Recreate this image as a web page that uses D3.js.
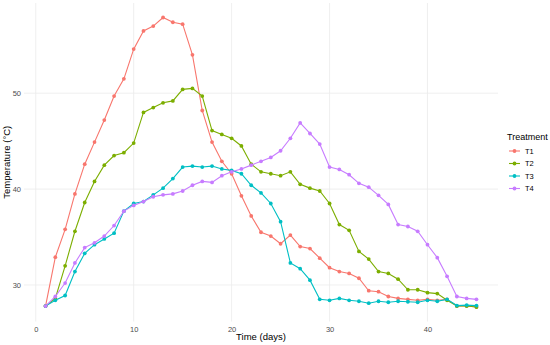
<!DOCTYPE html>
<html>
<head>
<meta charset="utf-8">
<script src="https://cdn.jsdelivr.net/npm/d3@7"></script>
<style>
  body { margin: 0; background: #fff; }
  svg { font-family: "Liberation Sans", Arial, sans-serif; }
</style>
</head>
<body>
<div id="container"></div>
<script>
// Days 1..45
const days = d3.range(1, 46);
const treatments = ['T1', 'T2', 'T3', 'T4'];
const colors = ['#F8766D', '#7CAE00', '#00BFC4', '#C77CFF'];

const t1 = [27.8, 32.9, 35.8, 39.5, 42.6, 44.9, 47.2, 49.7, 51.5, 54.6, 56.5, 57.0, 57.9, 57.4, 57.2,
  54.0, 48.2, 44.9, 42.9, 41.6, 39.3, 37.2, 35.5, 35.1, 34.3, 35.2, 34.0, 33.8, 32.8, 31.8,
  31.4, 31.2, 30.7, 29.4, 29.3, 28.8, 28.6, 28.5, 28.4, 28.5, 28.4, 28.5, 27.8, 27.8, 27.7];
const t2 = [27.8, 28.6, 32.0, 35.6, 38.6, 40.8, 42.5, 43.5, 43.8, 44.8, 48.0, 48.5, 49.0, 49.2, 50.4,
  50.5, 49.7, 46.1, 45.7, 45.3, 44.5, 42.6, 41.8, 41.6, 41.4, 41.8, 40.5, 40.1, 39.8, 38.5,
  36.3, 35.7, 33.5, 32.7, 31.4, 31.2, 30.6, 29.5, 29.5, 29.2, 29.1, 28.4, 27.8, 27.8, 27.7];
const t3 = [27.8, 28.4, 28.9, 31.4, 33.3, 34.2, 34.8, 35.4, 37.7, 38.5, 38.7, 39.4, 40.1, 41.1, 42.3,
  42.4, 42.3, 42.4, 42.1, 41.95, 41.6, 40.4, 39.6, 38.5, 36.6, 32.3, 31.7, 30.5, 28.5, 28.4,
  28.6, 28.4, 28.3, 28.1, 28.3, 28.2, 28.3, 28.25, 28.2, 28.4, 28.3, 28.5, 27.85, 27.9, 27.85];
const t4 = [27.8, 28.8, 30.2, 32.3, 33.9, 34.4, 35.1, 36.2, 37.7, 38.3, 38.7, 39.2, 39.4, 39.5, 39.8,
  40.4, 40.8, 40.7, 41.4, 41.8, 42.1, 42.5, 42.9, 43.3, 44.0, 45.3, 46.9, 45.8, 44.7, 42.3,
  42.05, 41.5, 40.6, 40.2, 39.35, 38.4, 36.3, 36.1, 35.6, 34.2, 32.85, 30.9, 28.8, 28.6, 28.5];

const xTicks = [0, 10, 20, 30, 40];
const yTicks = [30, 40, 50];

const width = 550, height = 345;
const panel = { left: 24, right: 498, top: 3, bottom: 321.5 };

const series = [t1, t2, t3, t4].map((vals, i) => ({
  name: treatments[i],
  color: colors[i],
  points: days.map((d, j) => ({ day: d, value: vals[j] }))
}));

// ggplot-like 5% expansion
const allVals = [].concat(t1, t2, t3, t4);
const yMin = d3.min(allVals), yMax = d3.max(allVals);
const yPad = (yMax - yMin) * 0.05;
const xPad = (d3.max(days) - d3.min(days)) * 0.05;

const x = d3.scaleLinear()
  .domain([d3.min(days) - xPad, d3.max(days) + xPad])
  .range([panel.left, panel.right]);
const y = d3.scaleLinear()
  .domain([yMin - yPad, yMax + yPad])
  .range([panel.bottom, panel.top]);

const svg = d3.select('#container').append('svg')
  .attr('width', width)
  .attr('height', height);

// grid
const grid = svg.append('g');
grid.selectAll('line.gx').data(xTicks).enter().append('line')
  .attr('x1', d => x(d)).attr('x2', d => x(d))
  .attr('y1', panel.top).attr('y2', panel.bottom)
  .attr('stroke', '#ebebeb').attr('stroke-width', 0.8);
grid.selectAll('line.gy').data(yTicks).enter().append('line')
  .attr('y1', d => y(d)).attr('y2', d => y(d))
  .attr('x1', panel.left).attr('x2', panel.right)
  .attr('stroke', '#ebebeb').attr('stroke-width', 0.8);

// axes (labels only, like theme_minimal)
const xAxis = svg.append('g')
  .attr('transform', `translate(0,${panel.bottom})`)
  .call(d3.axisBottom(x).tickValues(xTicks).tickSize(0).tickPadding(5));
const yAxis = svg.append('g')
  .attr('transform', `translate(${panel.left},0)`)
  .call(d3.axisLeft(y).tickValues(yTicks).tickSize(0).tickPadding(3));
[xAxis, yAxis].forEach(a => {
  a.select('.domain').remove();
  a.selectAll('text')
    .attr('fill', '#4d4d4d')
    .style('font-size', '7.5px')
    .style('font-family', '"Liberation Sans", Arial, sans-serif');
});

// axis titles
svg.append('text')
  .attr('x', (panel.left + panel.right) / 2)
  .attr('y', 340)
  .attr('text-anchor', 'middle')
  .style('font-size', '9.5px')
  .attr('fill', '#000')
  .text('Time (days)');
svg.append('text')
  .attr('transform', `translate(10,${(panel.top + panel.bottom) / 2}) rotate(-90)`)
  .attr('text-anchor', 'middle')
  .style('font-size', '9.5px')
  .attr('fill', '#000')
  .text('Temperature (°C)');

// lines + points
const line = d3.line().x(d => x(d.day)).y(d => y(d.value));
const groups = svg.selectAll('g.series').data(series).enter().append('g').attr('class', 'series');
groups.append('path')
  .attr('d', d => line(d.points))
  .attr('fill', 'none')
  .attr('stroke', d => d.color)
  .attr('stroke-width', 1.1);
groups.each(function (s) {
  d3.select(this).selectAll('circle').data(s.points).enter().append('circle')
    .attr('cx', d => x(d.day))
    .attr('cy', d => y(d.value))
    .attr('r', 1.9)
    .attr('fill', s.color);
});

// legend
const legend = svg.append('g').attr('transform', 'translate(507,0)');
legend.append('text')
  .attr('x', 0).attr('y', 140)
  .style('font-size', '9px')
  .text('Treatment');
const items = legend.selectAll('g.item').data(series).enter().append('g')
  .attr('transform', (d, i) => `translate(0,${151 + i * 12.5})`);
items.append('line')
  .attr('x1', 2).attr('x2', 13)
  .attr('stroke', d => d.color).attr('stroke-width', 1.1);
items.append('circle')
  .attr('cx', 7.5).attr('r', 1.9)
  .attr('fill', d => d.color);
items.append('text')
  .attr('x', 18).attr('y', 2.6)
  .style('font-size', '7.5px')
  .attr('fill', '#000')
  .text(d => d.name);
</script>
</body>
</html>
